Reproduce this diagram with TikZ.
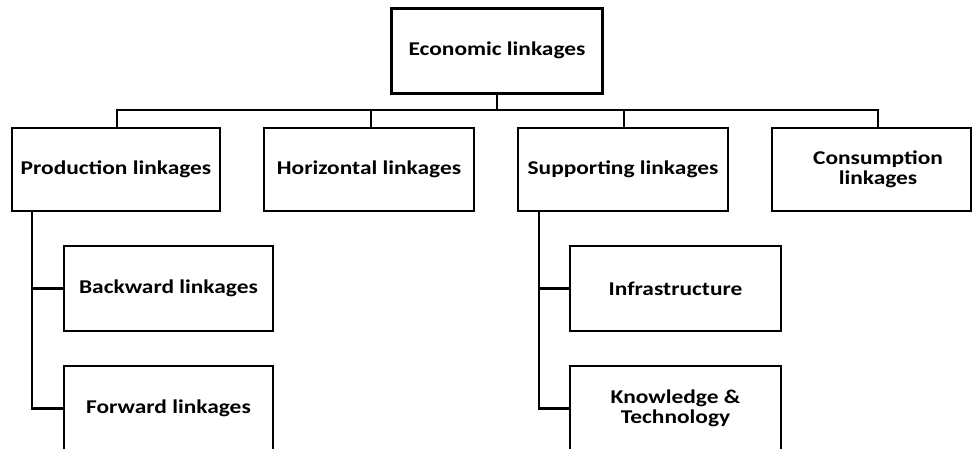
\documentclass[tikz,border=0pt]{standalone}
\usepackage{fontspec}
\setmainfont{Carlito}[BoldFeatures={FakeStretch=1.2}]
\begin{document}
\begin{tikzpicture}[x=1pt,y=-1pt,
  every node/.style={font=\bfseries\fontsize{19.5}{20.5}\selectfont, align=center},
  thinbox/.style={draw, line width=1.4pt, rectangle, inner sep=0pt, minimum width=#1, minimum height=85pt},
  thinbox/.default=209pt,
  conn/.style={draw, line width=2.8pt, line cap=rect}]
\useasboundingbox (0,0) rectangle (972,448);
\clip (0,0) rectangle (972,448);

% root
\node[draw, line width=3pt, minimum width=211pt, minimum height=85pt, inner sep=0pt] (root) at (497,50.5) {Economic linkages};

% first level
\node[thinbox=208pt, minimum height=83pt] (prod) at (116,169.5) {Production linkages};
\node[thinbox=210pt, minimum height=83pt] (horiz) at (369,169.5) {Horizontal linkages};
\node[thinbox=210pt, minimum height=83pt] (supp) at (623,169.5) {Supporting linkages};
\node[thinbox=199pt, minimum height=83pt] (cons) at (871.5,169.5) {};
\node (constext) at (878,169.5) {Consumption\\linkages};

% second level
\node[thinbox] (back) at (168.5,288.5) {Backward linkages};
\node[thinbox] (fwd) at (168.5,408.5) {Forward linkages};
\node[thinbox=211pt] (infra) at (675.5,288.5) {Infrastructure};
\node[thinbox=211pt] (know) at (675.5,408.5) {Knowledge \&\\Technology};

% bus under the root
\coordinate (bus) at (497,110);
\draw[conn] (root.south) -- (bus);
\draw[conn] (bus) -| ([xshift=1pt]prod.north);
\draw[conn] (bus) -| ([xshift=2pt]horiz.north);
\draw[conn] (bus) -| ([xshift=1pt]supp.north);
\draw[conn] (bus) -| (constext |- cons.north);

% branches below production and supporting linkages
\coordinate (pspine) at (32,211);
\coordinate (sspine) at (539,211);
\draw[conn] (pspine) |- (fwd.west);
\draw[conn] (pspine |- back.west) -- (back.west);
\draw[conn] (sspine) |- (know.west);
\draw[conn] (sspine |- infra.west) -- (infra.west);
\end{tikzpicture}
\end{document}
